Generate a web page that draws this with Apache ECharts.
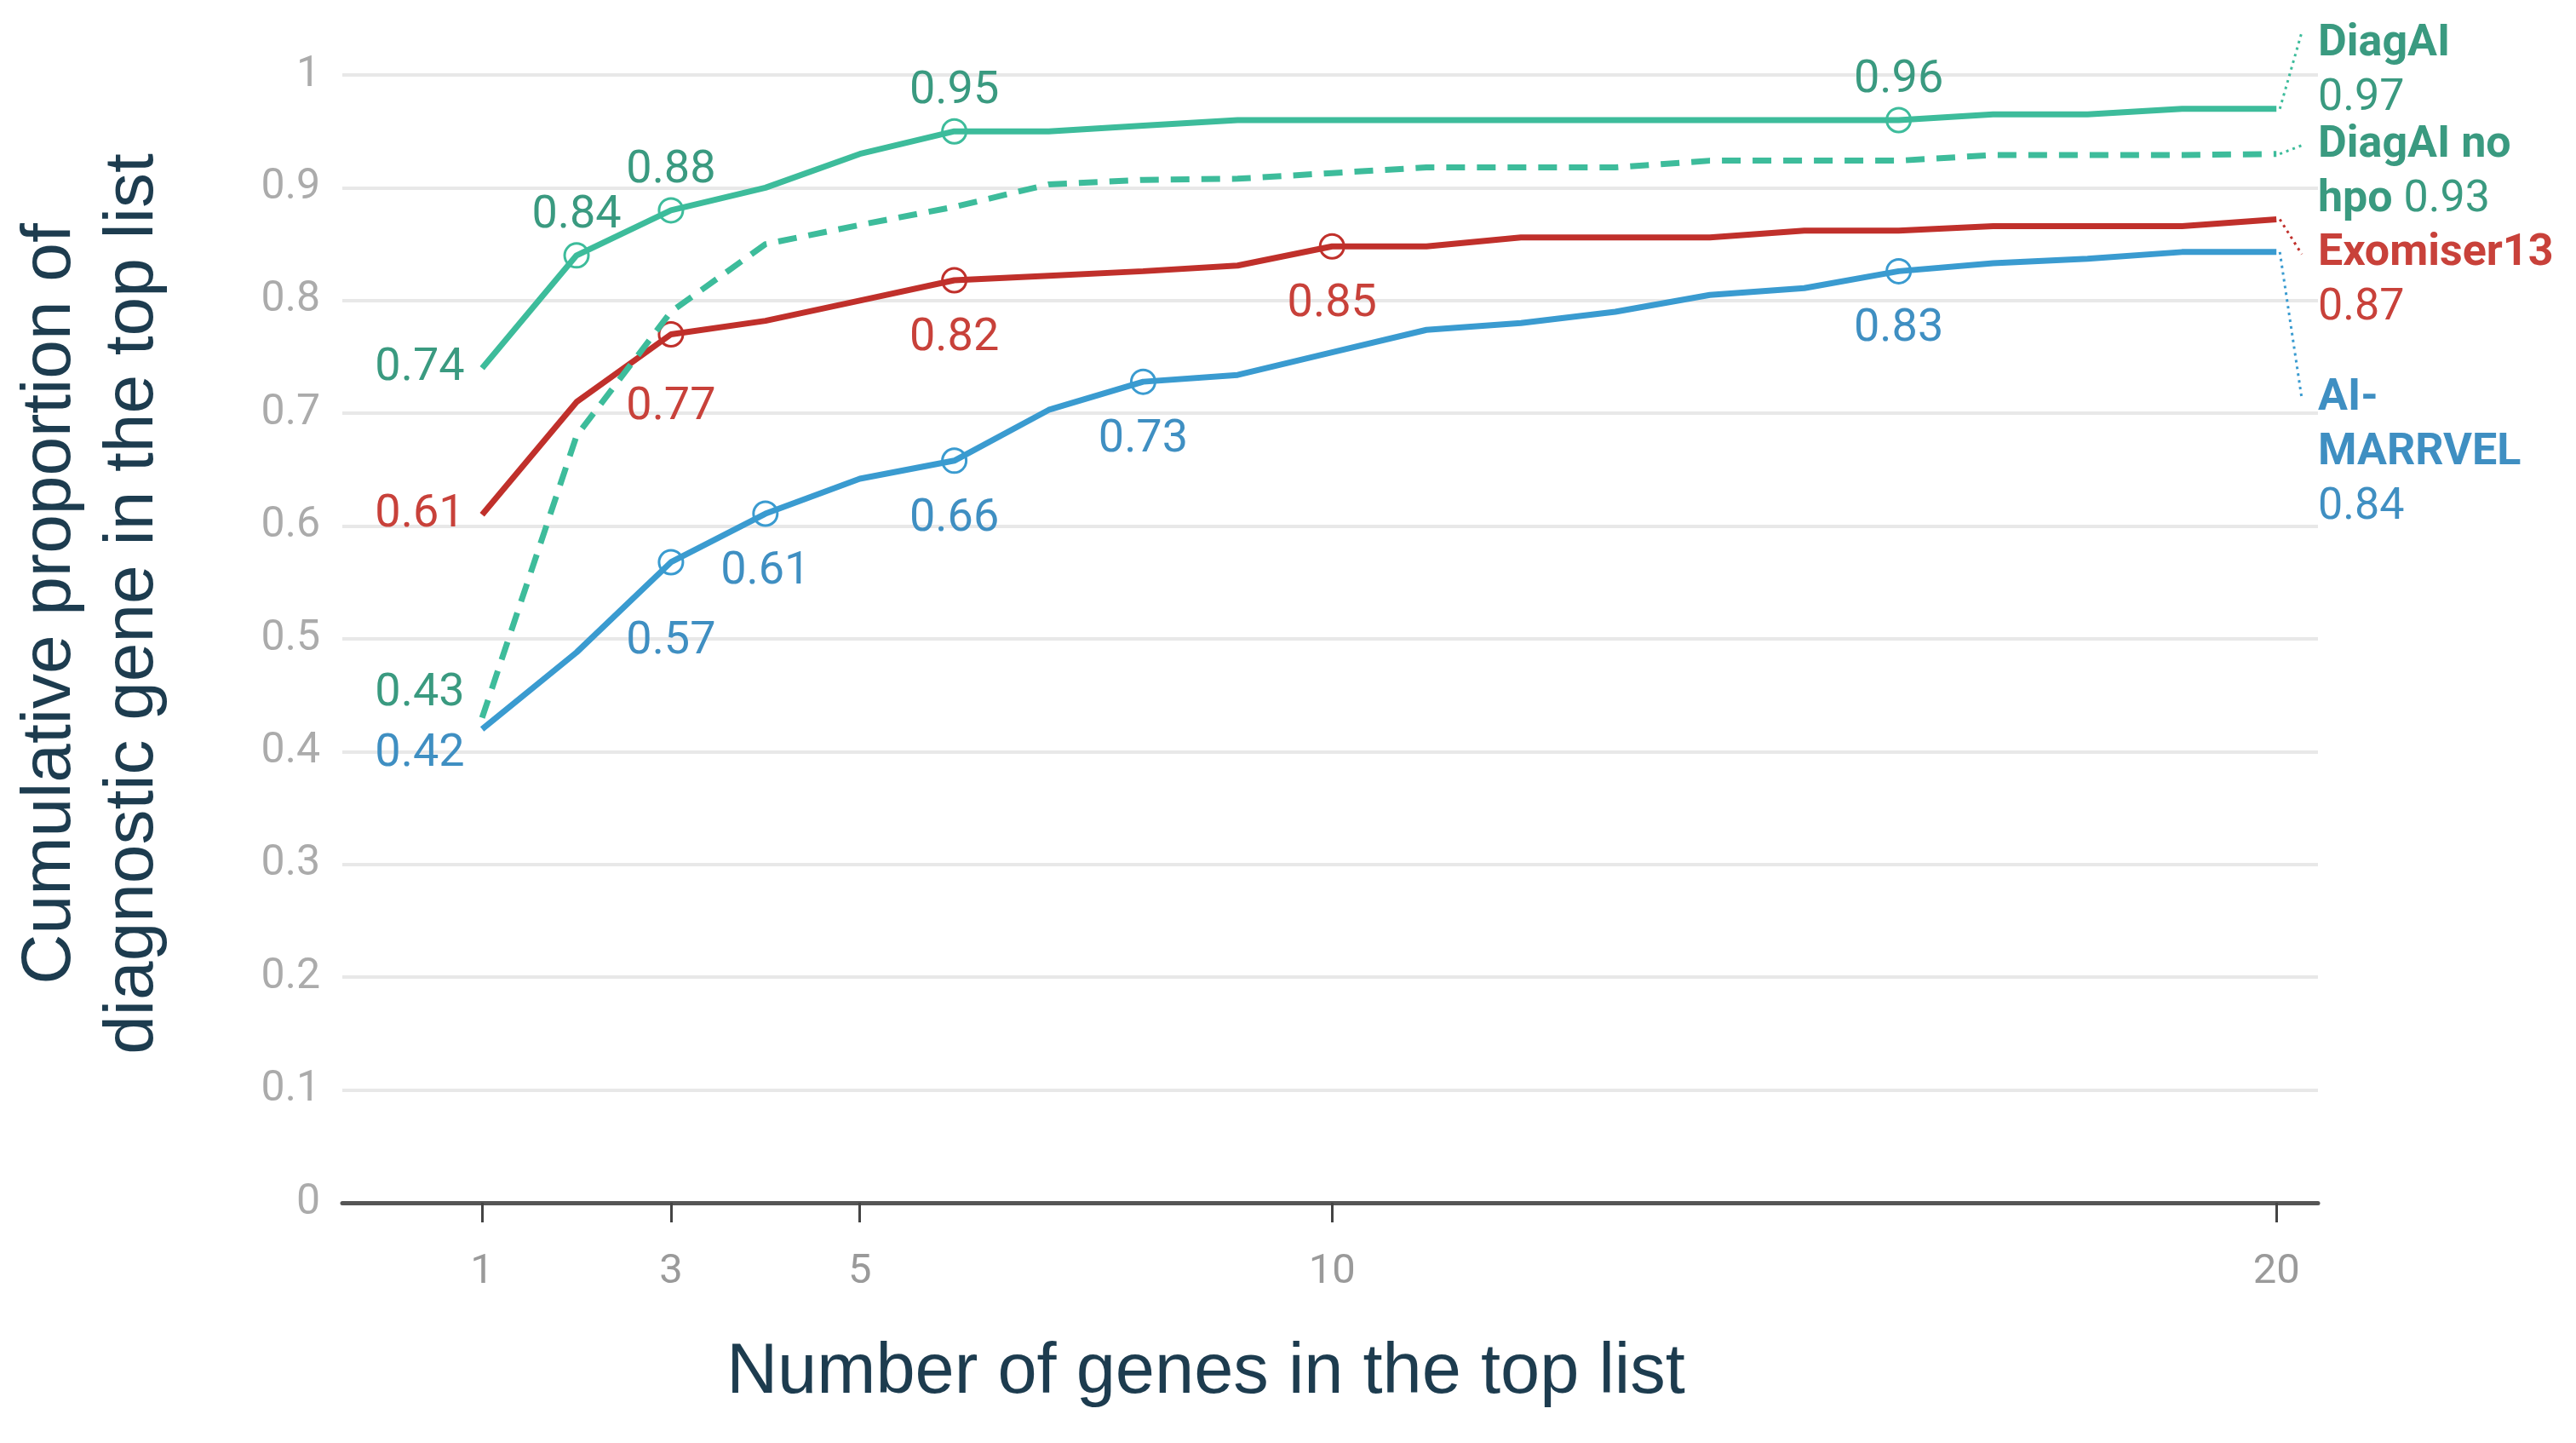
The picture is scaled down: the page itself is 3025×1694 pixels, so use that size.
<!DOCTYPE html>
<html>
<head>
<meta charset="utf-8">
<script src="https://cdn.jsdelivr.net/npm/echarts@6/dist/echarts.min.js"></script>
<style>
  html, body { margin: 0; padding: 0; background: #fff; }
  #main { width: 3025px; height: 1694px; }
</style>
</head>
<body>
<div id="main"></div>
<script>
// top-N list sizes
const topN = [1, 2, 3, 4, 5, 6, 7, 8, 9, 10, 11, 12, 13, 14, 15, 16, 17, 18, 19, 20];
const xTicks = [1, 3, 5, 10, 20];

// cumulative proportion per method
const diagAI = [0.74, 0.84, 0.88, 0.90, 0.93, 0.95, 0.95, 0.955, 0.96, 0.96, 0.96, 0.96, 0.96, 0.96, 0.96, 0.96, 0.965, 0.965, 0.97, 0.97];
const diagAINoHpo = [0.43, 0.68, 0.79, 0.85, 0.867, 0.883, 0.903, 0.907, 0.908, 0.913, 0.918, 0.918, 0.918, 0.924, 0.924, 0.924, 0.929, 0.929, 0.929, 0.93];
const exomiser13 = [0.61, 0.71, 0.77, 0.782, 0.80, 0.818, 0.822, 0.826, 0.831, 0.848, 0.848, 0.856, 0.856, 0.856, 0.862, 0.862, 0.866, 0.866, 0.866, 0.872];
const aiMarrvel = [0.42, 0.488, 0.568, 0.611, 0.642, 0.658, 0.703, 0.728, 0.734, 0.754, 0.774, 0.78, 0.79, 0.805, 0.811, 0.826, 0.833, 0.837, 0.843, 0.843];

// which points carry a circle + value label
const diagAIMarked = [2, 3, 6, 16];
const diagAINoHpoMarked = [];
const exomiser13Marked = [3, 6, 10];
const aiMarrvelMarked = [3, 4, 6, 8, 16];

// end labels (wrapped as in the original)
const endLabelLines = [
  ["DiagAI"],
  ["DiagAI no", "hpo"],
  ["Exomiser13"],
  ["AI-", "MARRVEL"]
];

const seriesDefs = [
  { name: "DiagAI", values: diagAI, marked: diagAIMarked, side: "top",
    line: "#3dbc9b", text: "#3a9a80", dash: "solid", firstOffset: [0, 0], extra: {},
    endDy: -76 },
  { name: "DiagAI no hpo", values: diagAINoHpo, marked: diagAINoHpoMarked, side: "top",
    line: "#3dbc9b", text: "#3a9a80", dash: [22, 14], firstOffset: [0, -28], extra: {},
    endDy: -10 },
  { name: "Exomiser13", values: exomiser13, marked: exomiser13Marked, side: "bottom",
    line: "#c0302b", text: "#c8413a", dash: "solid", firstOffset: [0, 0], extra: { 3: 17 },
    endDy: 41 },
  { name: "AI-MARRVEL", values: aiMarrvel, marked: aiMarrvelMarked, side: "bottom",
    line: "#3a9bd0", text: "#3f8fc2", dash: "solid", firstOffset: [0, 30], extra: { 3: 25 },
    endDy: 172 }
];

const labelFont = { fontFamily: "Roboto", fontSize: 54 };

function buildData(def) {
  return topN.map((x, i) => {
    const item = { value: [x, def.values[i]] };
    if (def.marked.indexOf(x) >= 0) {
      item.symbol = "circle";
      item.label = {
        show: true,
        position: def.side,
        distance: def.side === "top" ? 4 : 26,
        offset: [0, def.extra[x] || 0]
      };
    } else if (x === 1) {
      item.symbol = "circle";
      item.symbolSize = 1;
      item.itemStyle = { borderWidth: 0 };
      item.label = { show: true, position: "left", distance: 20, offset: def.firstOffset };
    } else {
      item.symbol = "none";
    }
    return item;
  });
}

const myChart = echarts.init(document.getElementById("main"));

const option = {
  backgroundColor: "#fff",
  animation: false,
  grid: { left: 402, right: 303, top: 88, bottom: 282 },
  xAxis: {
    type: "value",
    min: -0.48,
    max: 20.44,
    axisLine: { show: true, lineStyle: { color: "#555", width: 5 } },
    axisTick: { show: true, customValues: xTicks, length: 23, lineStyle: { color: "#444", width: 3 } },
    axisLabel: { customValues: xTicks, margin: 57, color: "#9a9a9a", fontFamily: "Roboto", fontSize: 49 },
    splitLine: { show: false }
  },
  yAxis: {
    type: "value",
    min: 0,
    max: 1,
    interval: 0.1,
    axisLine: { show: false },
    axisTick: { show: false },
    axisLabel: {
      margin: 26,
      color: "#ababab",
      fontFamily: "Roboto",
      fontSize: 50,
      formatter: (v) => String(Number(v.toFixed(1)))
    },
    splitLine: { lineStyle: { color: "#e8e8e8", width: 4 } }
  },
  series: seriesDefs.map((def, k) => ({
    name: def.name,
    type: "line",
    z: 10 - k,
    data: buildData(def),
    showSymbol: true,
    showAllSymbol: true,
    symbol: "none",
    symbolSize: 28,
    itemStyle: { color: "rgba(255,255,255,0)", borderColor: def.line, borderWidth: 3 },
    lineStyle: { color: def.line, width: 7, type: def.dash },
    label: {
      color: def.text,
      ...labelFont,
      formatter: (p) => p.value[1].toFixed(2)
    },
    emphasis: { disabled: true }
  }))
};

myChart.setOption(option);

// end labels and dotted leaders, placed from the series' last point
const graphics = [];
const labelX = 2722;
const leaderX = 2703;
const lineH = 64;
seriesDefs.forEach((def, k) => {
  const last = def.values[def.values.length - 1];
  const p = myChart.convertToPixel({ gridIndex: 0 }, [topN[topN.length - 1], last]);
  const firstCenter = p[1] + def.endDy;
  const lines = endLabelLines[k].map((t) => "{b|" + t + "}");
  if (def.name === "DiagAI no hpo") {
    lines[lines.length - 1] += "{v| " + last.toFixed(2) + "}";
  } else {
    lines.push("{v|" + last.toFixed(2) + "}");
  }
  graphics.push({
    type: "line",
    shape: { x1: p[0] + 4, y1: p[1], x2: leaderX, y2: firstCenter - (k === 0 ? 14 : 0) },
    style: { stroke: def.line, lineWidth: 3, lineDash: [3, 5] },
    z: 20
  });
  graphics.push({
    type: "text",
    x: labelX,
    y: firstCenter - lineH / 2,
    z: 20,
    style: {
      text: lines.join("\n"),
      verticalAlign: "top",
      align: "left",
      rich: {
        b: { fontFamily: "Roboto", fontWeight: "bold", fontSize: 52, lineHeight: lineH, fill: def.text },
        v: { fontFamily: "Roboto", fontWeight: "normal", fontSize: 52, lineHeight: lineH, fill: def.text }
      }
    }
  });
});

// axis titles
graphics.push({
  type: "text",
  x: 108,
  y: 709,
  rotation: Math.PI / 2,
  style: {
    text: "Cumulative proportion of\ndiagnostic gene in the top list",
    fill: "#1d3c4f",
    fontFamily: "Liberation Sans",
    fontSize: 82,
    lineHeight: 97,
    align: "center",
    verticalAlign: "middle"
  }
});
graphics.push({
  type: "text",
  x: 1416,
  y: 1612,
  style: {
    text: "Number of genes in the top list",
    fill: "#1d3c4f",
    fontFamily: "Liberation Sans",
    fontSize: 83,
    align: "center",
    verticalAlign: "middle"
  }
});

myChart.setOption({ graphic: graphics });
</script>
</body>
</html>
